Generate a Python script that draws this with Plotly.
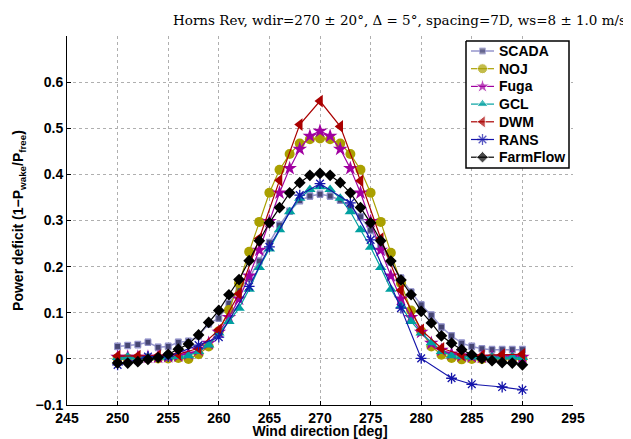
import plotly.graph_objects as go

# ---------------- data ----------------
deg_1 = [250, 251, 252, 253, 254, 255, 256, 257, 258, 259, 260, 261, 262, 263, 264,
         265, 266, 267, 268, 269, 270, 271, 272, 273, 274, 275, 276, 277, 278, 279,
         280, 281, 282, 283, 284, 285, 286, 287, 288, 289, 290]
deg_dwm = [250, 252, 254, 256, 258, 260, 262, 264, 266, 268, 270, 272, 274, 276, 278,
           280, 282, 284, 286, 288, 290]
deg_rans = [250, 253, 255, 258, 260, 263, 265, 268, 270, 273, 275, 278, 280, 283, 285,
            288, 290]

scada = [0.027, 0.029, 0.031, 0.036, 0.025, 0.027, 0.036, 0.038, 0.050, 0.076, 0.088,
         0.120, 0.151, 0.175, 0.212, 0.252, 0.290, 0.320, 0.343, 0.353, 0.357, 0.353,
         0.344, 0.330, 0.308, 0.279, 0.245, 0.210, 0.175, 0.145, 0.117, 0.095, 0.069,
         0.050, 0.034, 0.027, 0.022, 0.020, 0.020, 0.020, 0.020]
scada_err = [0.007] * 41

noj = [0.001, 0.001, 0.001, 0.001, 0.001, 0.001, 0.002, 0.000, 0.010, 0.027, 0.060,
       0.106, 0.164, 0.232, 0.297, 0.360, 0.410, 0.444, 0.467, 0.476, 0.478, 0.476,
       0.467, 0.444, 0.410, 0.360, 0.297, 0.230, 0.164, 0.105, 0.060, 0.027, 0.009,
       0.002, -0.001, 0.000, 0.000, 0.001, 0.001, 0.001, 0.001]

fuga = [0.004, 0.004, 0.004, 0.004, 0.004, 0.005, 0.007, 0.011, 0.019, 0.034, 0.058,
        0.090, 0.130, 0.180, 0.236, 0.298, 0.360, 0.413, 0.455, 0.483, 0.494, 0.483,
        0.455, 0.413, 0.360, 0.298, 0.236, 0.180, 0.130, 0.090, 0.058, 0.034, 0.019,
        0.011, 0.007, 0.005, 0.004, 0.004, 0.004, 0.004, 0.004]

gcl = [0.003, 0.004, 0.004, 0.004, 0.004, 0.004, 0.005, 0.007, 0.016, 0.030, 0.056,
       0.081, 0.110, 0.151, 0.198, 0.238, 0.280, 0.319, 0.348, 0.367, 0.373, 0.367,
       0.348, 0.319, 0.280, 0.242, 0.198, 0.151, 0.115, 0.081, 0.056, 0.035, 0.016,
       0.007, 0.005, 0.004, 0.004, 0.004, 0.004, 0.004, 0.003]

dwm = [0.006, 0.006, 0.007, 0.010, 0.023, 0.063, 0.141, 0.261, 0.387, 0.508, 0.559,
       0.504, 0.386, 0.261, 0.149, 0.063, 0.023, 0.009, 0.007, 0.009, 0.010]

rans = [-0.013, 0.005, 0.005, 0.030, 0.047, 0.157, 0.243, 0.355, 0.380, 0.338, 0.258,
        0.110, 0.001, -0.042, -0.055, -0.061, -0.067]

farmflow = [-0.009, -0.009, -0.006, -0.001, 0.003, 0.010, 0.021, 0.032, 0.052, 0.079,
            0.105, 0.139, 0.172, 0.213, 0.256, 0.295, 0.328, 0.360, 0.382, 0.398, 0.402,
            0.398, 0.382, 0.360, 0.328, 0.295, 0.256, 0.212, 0.171, 0.139, 0.103, 0.078,
            0.050, 0.034, 0.020, 0.009, 0.001, -0.004, -0.008, -0.009, -0.013]

series_names = ["SCADA", "NOJ", "Fuga", "GCL", "DWM", "RANS", "FarmFlow"]

x_ticks = [245, 250, 255, 260, 265, 270, 275, 280, 285, 290, 295]
y_ticks = [-0.1, 0, 0.1, 0.2, 0.3, 0.4, 0.5, 0.6]
y_ticklabels = ["\u22120.1", "0", "0.1", "0.2", "0.3", "0.4", "0.5", "0.6"]

title_text = "Horns Rev, wdir=270 \u00b1 20\u00b0, \u0394 = 5\u00b0, spacing=7D, ws=8 \u00b1 1.0 m/s"

# ---------------- styles ----------------
SC_LIGHT = "rgb(150,150,205)"
styles = {
    "SCADA": dict(line=dict(color=SC_LIGHT, width=1.5),
                  marker=dict(symbol="square", size=6, color="rgb(70,70,115)",
                              line=dict(color=SC_LIGHT, width=1))),
    "NOJ": dict(line=dict(color="rgb(170,160,0)", width=1.2),
                marker=dict(symbol="circle", size=10, color="rgb(170,160,0)")),
    "Fuga": dict(line=dict(color="rgb(160,0,160)", width=1.2),
                 marker=dict(symbol="star", size=11, color="rgb(160,0,160)")),
    "GCL": dict(line=dict(color="rgb(0,160,160)", width=1.2),
                marker=dict(symbol="triangle-up", size=10, color="rgb(0,160,160)")),
    "DWM": dict(line=dict(color="rgb(170,0,0)", width=1.2),
                marker=dict(symbol="triangle-left", size=11, color="rgb(170,0,0)")),
    "RANS": dict(line=dict(color="rgb(20,20,170)", width=1.2),
                 marker=dict(symbol="asterisk-open", size=9, color="rgb(20,20,170)",
                             line=dict(color="rgb(20,20,170)", width=1.3))),
    "FarmFlow": dict(line=dict(color="black", width=1.2),
                     marker=dict(symbol="diamond", size=9, color="black")),
}

data_sets = {
    "SCADA": (deg_1, scada),
    "NOJ": (deg_1, noj),
    "Fuga": (deg_1, fuga),
    "GCL": (deg_1, gcl),
    "DWM": (deg_dwm, dwm),
    "RANS": (deg_rans, rans),
    "FarmFlow": (deg_1, farmflow),
}

# ---------------- figure ----------------
fig = go.Figure()

for name in series_names:
    xs, ys = data_sets[name]
    kw = dict(x=xs, y=ys, name=name, mode="lines+markers", showlegend=False,
              line=styles[name]["line"], marker=styles[name]["marker"])
    if name == "SCADA":
        kw["error_y"] = dict(type="data", array=scada_err, color=SC_LIGHT,
                             thickness=1.2, width=3)
    fig.add_trace(go.Scatter(**kw))

# ---- legend, drawn on a pixel-coordinate overlay axis ----
box_l, box_r, box_t, box_b = 466, 569, 41, 168
row0, row_step = 51, 17.7
line_l, line_r, text_x = 471, 494, 497

fig.add_trace(go.Scatter(
    x=[box_l, box_r, box_r, box_l, box_l], y=[box_t, box_t, box_b, box_b, box_t],
    xaxis="x2", yaxis="y2", mode="lines", fill="toself", fillcolor="white",
    line=dict(color="black", width=1.5), showlegend=False, hoverinfo="skip",
))

legend_font = dict(family="Liberation Sans, Arial, sans-serif", size=14,
                   color="black", weight="bold")
annotations = []
for i, name in enumerate(series_names):
    yy = row0 + i * row_step
    mk = dict(styles[name]["marker"])
    mk["size"] = [0, mk["size"], 0]
    fig.add_trace(go.Scatter(
        x=[line_l, (line_l + line_r) / 2, line_r], y=[yy, yy, yy],
        xaxis="x2", yaxis="y2", mode="lines+markers",
        line=styles[name]["line"], marker=mk, showlegend=False, hoverinfo="skip",
    ))
    annotations.append(dict(
        text=name, xref="x2", yref="y2", x=text_x, y=yy,
        xanchor="left", yanchor="middle", showarrow=False, font=legend_font,
    ))

annotations.append(dict(
    text=title_text, xref="paper", yref="paper",
    x=(171 - 67) / 506, y=(405 - 20) / 369, xanchor="left", yanchor="middle",
    showarrow=False,
    font=dict(family="DejaVu Serif, serif", size=13.5, color="black"),
))

axis_font = dict(family="Liberation Sans, Arial, sans-serif", size=14,
                 color="black", weight="bold")

# the page places the figure 8 px from the top-left corner of the window
fig.update_layout(
    width=623, height=431,
    margin=dict(l=59, r=58, t=28, b=34, autoexpand=False),
    paper_bgcolor="white", plot_bgcolor="white",
    showlegend=False,
    xaxis=dict(
        range=[245, 295], tickmode="array", tickvals=x_ticks, automargin=False,
        ticks="inside", ticklen=4, tickcolor="black", tickwidth=1,
        showline=True, linecolor="black", linewidth=1,
        showgrid=True, gridcolor="rgb(175,175,175)", griddash="dot", gridwidth=1,
        zeroline=False, tickfont=axis_font,
        title=dict(text="Wind direction [deg]", font=axis_font, standoff=5),
    ),
    yaxis=dict(
        range=[-0.1, 0.7], tickmode="array", tickvals=y_ticks, ticktext=y_ticklabels,
        automargin=False,
        ticks="inside", ticklen=4, tickcolor="black", tickwidth=1,
        showline=True, linecolor="black", linewidth=1,
        showgrid=True, gridcolor="rgb(175,175,175)", griddash="dot", gridwidth=1,
        zeroline=False, tickfont=axis_font,
        title=dict(text="Power deficit (1\u2212P<sub>wake</sub>/P<sub>free</sub>)",
                   font=axis_font, standoff=8),
    ),
    xaxis2=dict(overlaying="x", range=[67, 573], visible=False, fixedrange=True,
                automargin=False),
    yaxis2=dict(overlaying="y", range=[405, 36], visible=False, fixedrange=True,
                automargin=False),
    annotations=annotations,
)

# pull the x tick labels up towards the axis line, as in the reference
try:
    fig.update_xaxes(ticklabelstandoff=-5, selector=dict(anchor="y"))
except Exception:
    pass

fig.write_html("out.html")
